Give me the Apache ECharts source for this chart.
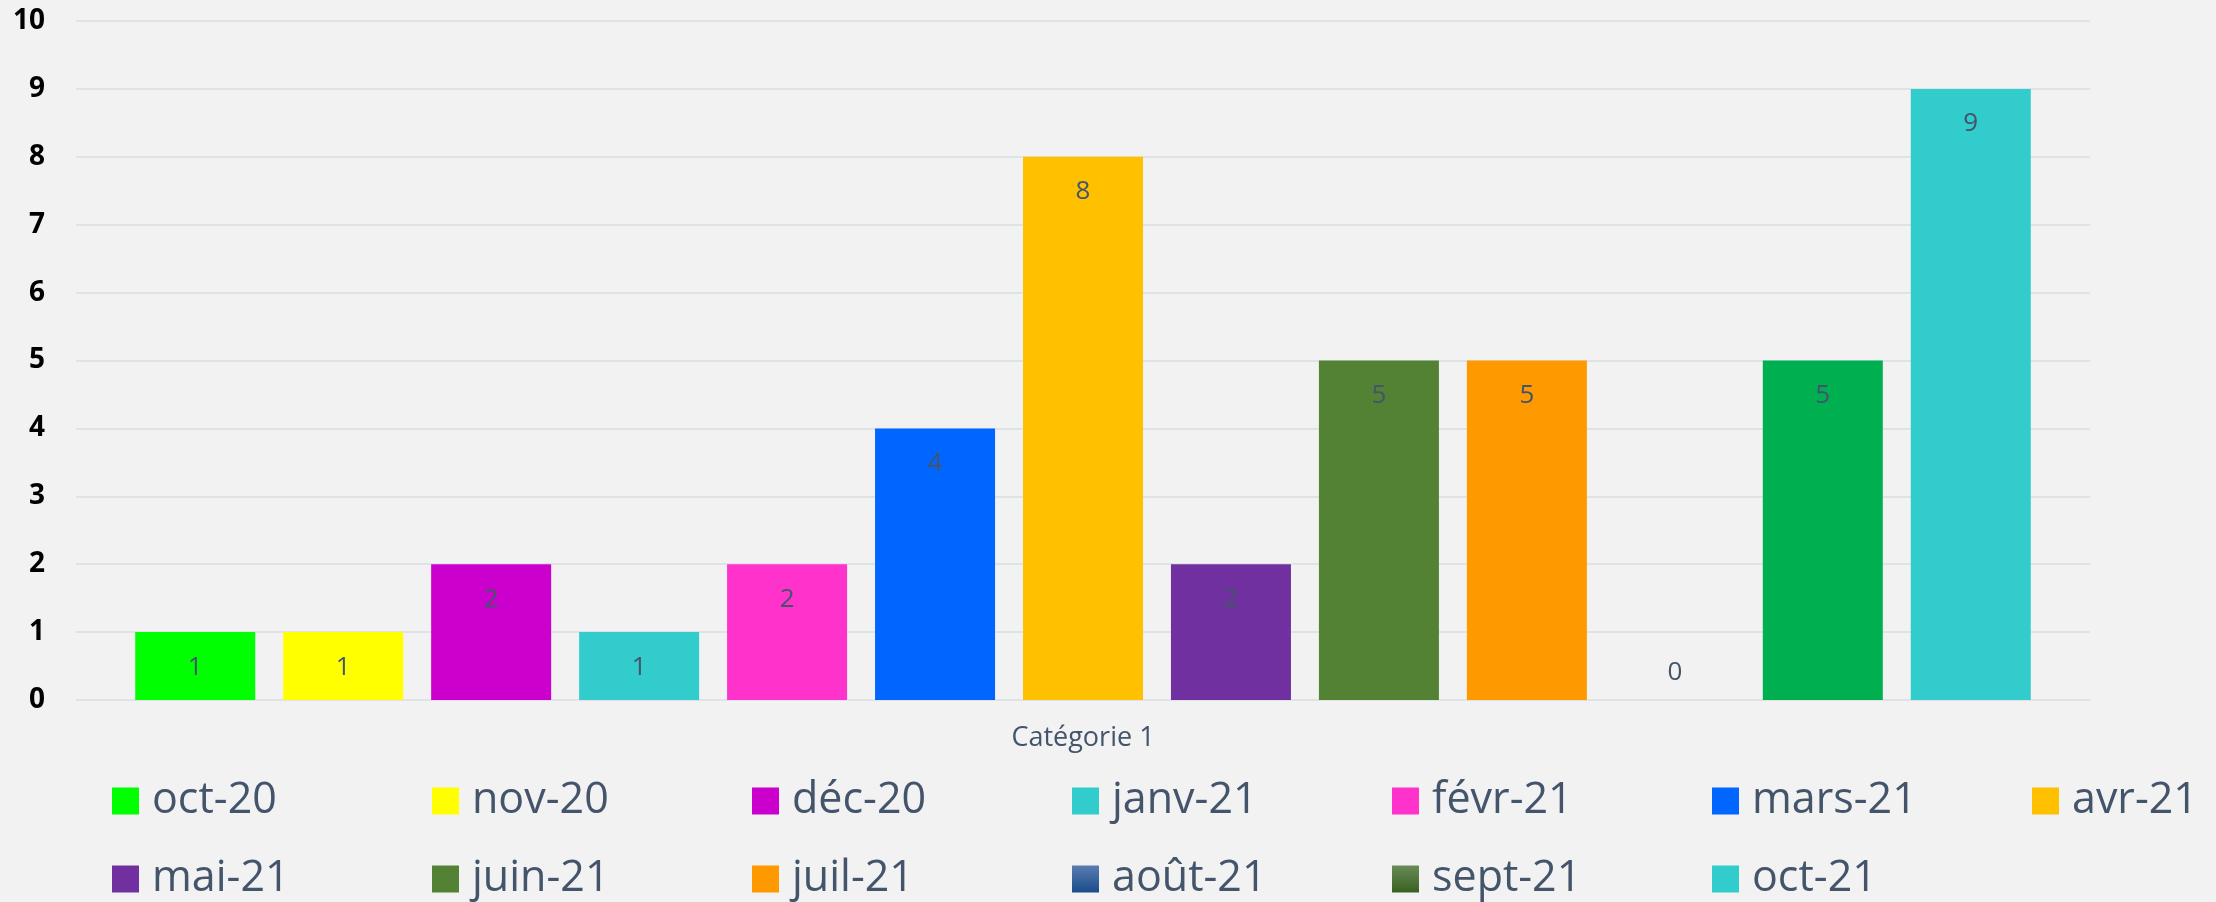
<!DOCTYPE html>
<html>
<head>
<meta charset="utf-8">
<script src="https://cdn.jsdelivr.net/npm/echarts@6/dist/echarts.min.js"></script>
<style>
  html, body { margin: 0; padding: 0; background: #F2F2F2; }
  #chart { width: 2216px; height: 902px; }
</style>
</head>
<body>
<div id="chart"></div>
<script>
// une seule catégorie, une série par mois
var categories = ['Catégorie 1'];
var months = ['oct-20', 'nov-20', 'déc-20', 'janv-21', 'févr-21', 'mars-21', 'avr-21',
  'mai-21', 'juin-21', 'juil-21', 'août-21', 'sept-21', 'oct-21'];
var values = [1, 1, 2, 1, 2, 4, 8, 2, 5, 5, 0, 5, 9];
var yTicks = [0, 1, 2, 3, 4, 5, 6, 7, 8, 9, 10];

var colors = ['#00FF00', '#FFFF00', '#CC00CC', '#33CCCC', '#FF33CC', '#0066FF', '#FFC000',
  '#7030A0', '#548235', '#FF9900', null, null, '#33CCCC'];

function grad(c1, c2) {
  return new echarts.graphic.LinearGradient(0, 0, 0, 1, [
    { offset: 0, color: c1 }, { offset: 1, color: c2 }
  ]);
}
colors[10] = grad('#5A7DB0', '#1A4C8A');
colors[11] = grad('#6A8C58', '#386020');

var series = months.map(function (m, i) {
  var item = { value: values[i] };
  if (values[i] === 0) {
    item.label = { position: 'top', distance: 14 };
  }
  if (i === 11) {
    // la barre est verte, la légende reste en dégradé
    item.itemStyle = { color: '#00B050' };
  }
  return {
    name: m,
    type: 'bar',
    data: [item],
    barWidth: 120,
    barGap: '23.3%',
    itemStyle: { color: colors[i] },
    label: {
      show: true,
      position: 'insideTop',
      distance: 22,
      color: '#44546A',
      fontFamily: 'Open Sans',
      fontSize: 26
    }
  };
});

var chart = echarts.init(document.getElementById('chart'));
chart.setOption({
  backgroundColor: '#F2F2F2',
  animation: false,
  grid: { left: 76, right: 126, top: 21, bottom: 202, containLabel: false },
  legend: {
    data: months,
    left: 107,
    top: 757,
    width: 2240,
    itemGap: 0,
    itemWidth: 27,
    itemHeight: 27,
    icon: 'rect',
    textStyle: {
      color: '#44546A',
      fontFamily: 'Open Sans',
      fontSize: 43,
      lineHeight: 78,
      width: 280,
      padding: [0, 0, 0, 8]
    }
  },
  xAxis: {
    type: 'category',
    data: categories,
    axisLine: { show: false },
    axisTick: { show: false },
    axisLabel: {
      color: '#44546A',
      fontFamily: 'Open Sans',
      fontSize: 27,
      margin: 25
    }
  },
  yAxis: {
    type: 'value',
    min: yTicks[0],
    max: yTicks[yTicks.length - 1],
    interval: 1,
    axisLine: { show: false },
    axisTick: { show: false },
    splitLine: { lineStyle: { color: '#DFE3E8', width: 2 } },
    axisLabel: {
      color: '#000000',
      fontWeight: 'bold',
      fontFamily: 'Open Sans',
      fontSize: 28,
      margin: 31
    }
  },
  series: series
});
</script>
</body>
</html>
